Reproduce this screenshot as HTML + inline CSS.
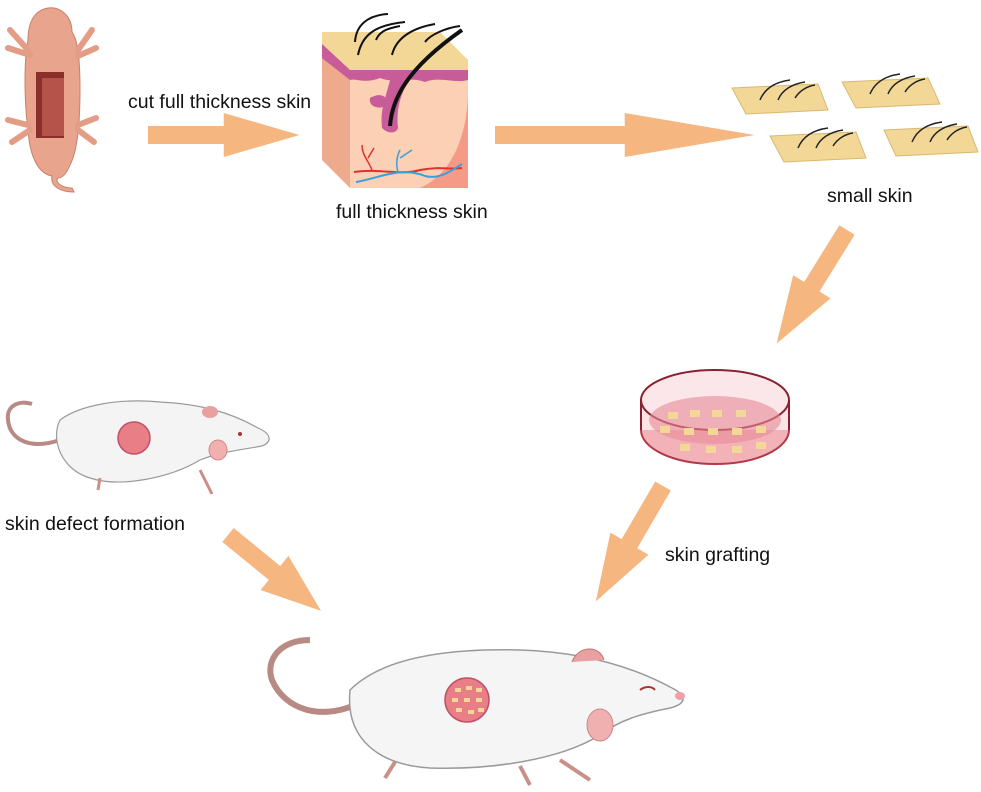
<!DOCTYPE html>
<html><head><meta charset="utf-8"><style>
html,body{margin:0;padding:0;background:#fff;}
svg{display:block}
text{font-family:"Liberation Sans",Arial,sans-serif;font-size:19.5px;fill:#111}
</style></head><body>
<svg width="981" height="792" viewBox="0 0 981 792" xmlns="http://www.w3.org/2000/svg">
<defs>
<g id="arr"><polygon points="0,-9 75,-9 75,-22 150,0 75,22 75,9 0,9" fill="#f5b680"/></g>
</defs>

<!-- pup -->
<g>
<path d="M48,8 C60,6 72,16 72,32 C78,40 80,60 80,90 C80,120 78,150 70,165 C66,175 62,178 58,178 C54,182 62,188 72,188 L74,192 C60,192 50,186 52,176 C40,174 30,160 28,130 C24,100 24,60 28,40 C28,20 36,10 48,8 Z" fill="#e9a48d" stroke="#c8806a" stroke-width="1"/>
<path d="M28,50 L10,30 M30,55 L8,48 M78,50 L92,30 M78,56 L96,48 M28,125 L8,120 M30,130 L12,142 M78,125 L96,118 M78,130 L94,142" stroke="#e39c86" stroke-width="6" stroke-linecap="round"/>
<rect x="36" y="72" width="28" height="66" fill="#8a2f2a"/>
<rect x="42" y="78" width="22" height="58" fill="#b5524a"/>
</g>
<text x="128" y="108">cut full thickness skin</text>
<use href="#arr" transform="translate(148,135) scale(1.01,1)"/>

<!-- skin block -->
<g>
<polygon points="322,40 350,68 350,188 322,160" fill="#eeaa8c"/>
<polygon points="350,68 468,68 468,188 350,188" fill="#fbd0b4"/>
<path d="M420,188 C460,170 468,120 468,90 L468,188 Z" fill="#f59a86"/>
<polygon points="322,32 440,32 468,60 468,70 350,70 322,44" fill="#f3d797"/>
<path d="M322,44 L350,70 L468,70 L468,80 C455,84 440,76 425,82 C410,76 395,84 380,78 C365,84 355,78 350,80 L322,58 Z" fill="#c75c98"/>
<path d="M390,80 C385,100 380,110 382,128 C388,134 396,134 398,128 C396,110 400,95 410,78 Z" fill="#c75c98"/>
<path d="M370,98 C380,92 390,96 386,106 C378,110 368,106 370,98 Z" fill="#c75c98"/>
<path d="M390,126 C392,100 405,70 462,30" stroke="#111" stroke-width="4" fill="none"/>
<path d="M355,42 C356,25 368,15 388,14 M358,55 C362,35 375,25 405,22 M392,55 C396,38 412,28 435,24 M425,42 C430,35 445,28 460,26 M376,40 C380,30 390,28 400,26" stroke="#111" stroke-width="2" fill="none"/>
<path d="M354,172 C380,168 400,176 420,170 C440,166 450,170 462,168" stroke="#e3302d" stroke-width="2" fill="none"/>
<path d="M356,182 C380,178 400,166 425,176 C440,180 452,170 462,164" stroke="#3aa0dc" stroke-width="2" fill="none"/>
<path d="M372,170 C368,160 362,155 362,145 M368,158 L374,148" stroke="#e3302d" stroke-width="1.5" fill="none"/>
<path d="M398,172 C396,165 396,158 400,150 M400,158 L412,150" stroke="#3aa0dc" stroke-width="1.5" fill="none"/>
</g>
<text x="336" y="218">full thickness skin</text>

<use href="#arr" transform="translate(495,135) scale(1.73,1)"/>

<!-- small skins -->
<g fill="#f3d797" stroke="#d9b870" stroke-width="1">
<polygon points="732,88 818,84 828,110 746,114"/>
<polygon points="842,82 928,78 940,104 856,108"/>
<polygon points="770,136 856,132 866,158 784,162"/>
<polygon points="884,130 968,126 978,152 896,156"/>
</g>
<g stroke="#222" stroke-width="1.5" fill="none">
<path d="M760,100 C765,88 775,82 790,80 M778,100 C782,90 792,84 805,82 M795,98 C800,90 808,86 815,85"/>
<path d="M870,94 C875,82 885,76 900,74 M888,94 C892,84 902,78 915,76 M905,92 C910,84 918,80 925,79"/>
<path d="M798,148 C803,136 813,130 828,128 M816,148 C820,138 830,132 843,130 M833,146 C838,138 846,134 853,133"/>
<path d="M912,142 C917,130 927,124 942,122 M930,142 C934,132 944,126 957,124 M947,140 C952,132 960,128 967,127"/>
</g>
<text x="827" y="202">small skin</text>

<use href="#arr" transform="translate(847,230) rotate(121.8) scale(0.89,1)"/>

<!-- petri dish -->
<g>
<ellipse cx="715" cy="430" rx="74" ry="34" fill="#f3b2b8" stroke="#b23a48" stroke-width="2"/>
<rect x="641" y="400" width="148" height="30" fill="#fbe3e6"/>
<ellipse cx="715" cy="400" rx="74" ry="30" fill="#fbe7ea" stroke="#8a2030" stroke-width="2"/>
<ellipse cx="715" cy="420" rx="66" ry="24" fill="#e88a96" opacity="0.6"/>
<path d="M641,400 L641,430 M789,400 L789,430" stroke="#8a2030" stroke-width="2"/>
<g fill="#f3d797">
<rect x="668" y="412" width="10" height="7"/><rect x="690" y="410" width="10" height="7"/><rect x="712" y="410" width="10" height="7"/><rect x="736" y="410" width="10" height="7"/>
<rect x="660" y="426" width="10" height="7"/><rect x="684" y="428" width="10" height="7"/><rect x="708" y="428" width="10" height="7"/><rect x="732" y="428" width="10" height="7"/><rect x="756" y="426" width="10" height="7"/>
<rect x="680" y="444" width="10" height="7"/><rect x="706" y="446" width="10" height="7"/><rect x="732" y="446" width="10" height="7"/><rect x="756" y="442" width="10" height="7"/>
</g>
</g>

<use href="#arr" transform="translate(663,486) rotate(120.2) scale(0.89,1)"/>
<text x="665" y="561">skin grafting</text>

<!-- small rat -->
<g>
<path d="M60,440 C30,450 10,440 8,420 C6,405 20,400 32,404" stroke="#b88a84" stroke-width="4" fill="none"/>
<path d="M60,420 C80,405 120,398 160,402 C200,404 230,412 258,428 C272,434 272,442 262,446 C240,450 220,452 200,460 C170,478 120,488 90,478 C62,470 50,440 60,420 Z" fill="#f4f4f4" stroke="#9a9a9a" stroke-width="1.2"/>
<ellipse cx="210" cy="412" rx="8" ry="6" fill="#e8a0a0"/>
<ellipse cx="218" cy="450" rx="9" ry="10" fill="#f0b0b0" stroke="#c88" stroke-width="1"/>
<path d="M100,478 L98,490 M200,470 L212,494" stroke="#c9908a" stroke-width="3"/>
<circle cx="134" cy="438" r="16" fill="#e87e86" stroke="#c0506a" stroke-width="1.5"/>
<circle cx="240" cy="434" r="2" fill="#a33"/>
</g>
<text x="5" y="530">skin defect formation</text>

<use href="#arr" transform="translate(228,535) rotate(39.2) scale(0.8,1)"/>

<!-- big rat -->
<g>
<path d="M355,705 C320,720 285,710 272,680 C265,660 280,640 310,640" stroke="#b88a84" stroke-width="6" fill="none"/>
<path d="M350,690 C380,660 440,648 520,650 C580,652 630,665 672,688 C688,696 686,704 670,708 C640,714 620,720 600,735 C560,760 490,770 430,768 C380,765 345,740 350,690 Z" fill="#f5f5f5" stroke="#9a9a9a" stroke-width="1.5"/>
<path d="M572,662 C578,645 600,645 604,660" fill="#e8a0a0" stroke="#b77" stroke-width="1"/>
<ellipse cx="600" cy="725" rx="13" ry="16" fill="#f0b0b0" stroke="#c88" stroke-width="1"/>
<path d="M395,762 L385,778 M520,766 L530,785 M560,760 L590,780" stroke="#c9908a" stroke-width="4"/>
<circle cx="467" cy="700" r="22" fill="#e87e86" stroke="#c0506a" stroke-width="1.5"/>
<g fill="#f3d797"><rect x="455" y="688" width="6" height="4"/><rect x="466" y="686" width="6" height="4"/><rect x="476" y="688" width="6" height="4"/><rect x="452" y="698" width="6" height="4"/><rect x="464" y="698" width="6" height="4"/><rect x="476" y="698" width="6" height="4"/><rect x="456" y="708" width="6" height="4"/><rect x="468" y="710" width="6" height="4"/><rect x="478" y="708" width="6" height="4"/></g>
<path d="M640,690 C645,686 652,686 655,690" stroke="#a33" stroke-width="2" fill="none"/>
<ellipse cx="680" cy="696" rx="5" ry="4" fill="#f0a0a8"/>
</g>
</svg>
</body></html>
